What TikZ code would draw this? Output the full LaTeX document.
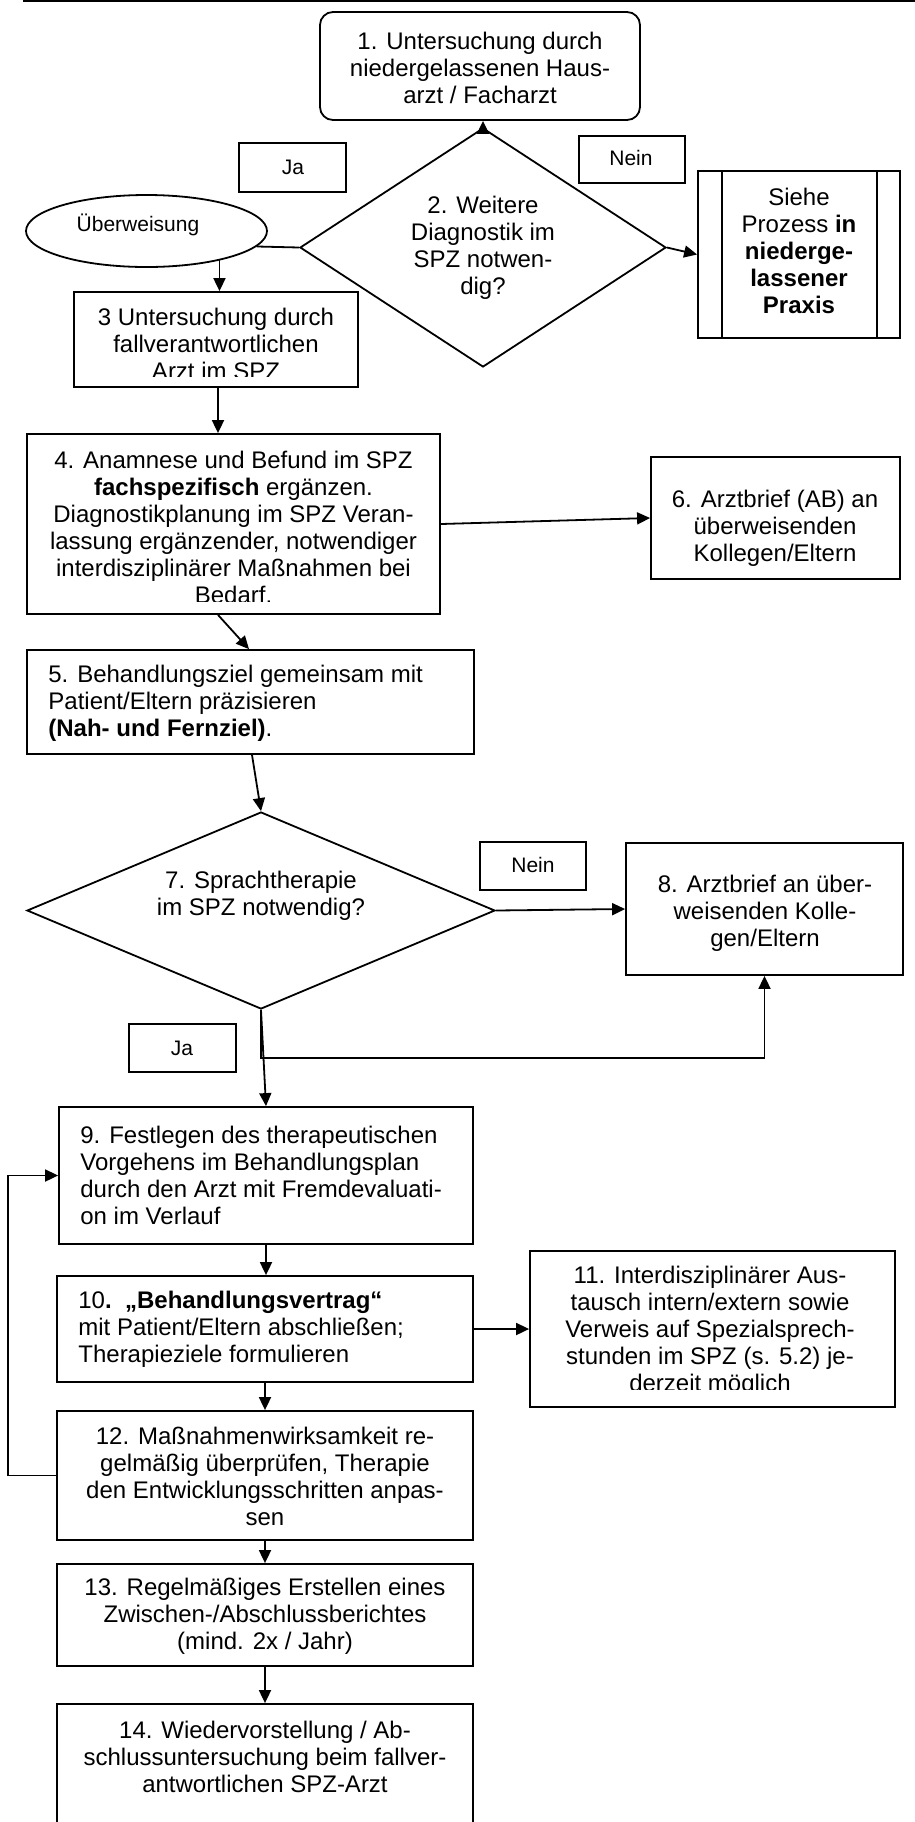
\documentclass[tikz,border=0pt]{standalone}
\usepackage{fontspec}
\setmainfont{Liberation Sans}
\usetikzlibrary{shapes.geometric,arrows.meta,calc}
\begin{document}
\begin{tikzpicture}[x=0.5pt,y=-0.5pt,
  box/.style={draw, line width=0.9pt, inner sep=0pt},
  txt/.style={inner sep=0pt, align=center, font=\fontsize{12}{13.5}\selectfont},
  lbl/.style={inner sep=0pt, align=center, font=\fontsize{10.5}{12}\selectfont},
  ltxt/.style={inner sep=0pt, align=left, anchor=west, font=\fontsize{12}{13.5}\selectfont},
  conn/.style={line width=0.9pt},
  arr/.style={conn, -{Triangle[length=6.5pt,width=6pt]}}]
\useasboundingbox (0,0) rectangle (915,1822);
\clip (0,0) rectangle (915,1822);
\draw[line width=1pt] (23,1) -- (915,1);

% 1
\node[box, rounded corners=6.5pt, minimum width=160pt, minimum height=54pt] (n1) at (480,66) {};
\node[txt] (t1) at (480,68) {1. Untersuchung durch\\niedergelassenen Haus-\\arzt / Facharzt};
% 2
\node[box, diamond, minimum width=183pt, minimum height=119.5pt] (d2) at (483,247.5) {};
\node[txt] (t2) at (483,248) {2. Weitere\\Diagnostik im\\SPZ notwen-\\dig?};
% Siehe
\node[box, minimum width=101pt, minimum height=83.5pt] (nS) at (799,254.5) {};
\draw[conn] ([xshift=12.5pt]nS.north west) -- ([xshift=12.5pt]nS.south west);
\draw[conn] ([xshift=-12pt]nS.north east) -- ([xshift=-12pt]nS.south east);
\node[txt] (tS) at (799,251) {Siehe\\Prozess \textbf{in}\\\textbf{niederge-}\\\textbf{lassener}\\\textbf{Praxis}};
% Nein / Ja top
\node[box, minimum width=53pt, minimum height=23.5pt] (nNein1) at (632,159.5) {};
\node[lbl] (tNein1) at (631,158) {Nein};
\node[box, minimum width=53.5pt, minimum height=24.5pt] (nJa1) at (292.5,167.5) {};
\node[lbl] (tJa1) at (293,167) {Ja};
% Ueberweisung
\node[box, ellipse, minimum width=120.5pt, minimum height=36pt] (eU) at (146.5,231) {};
\node[lbl] (tU) at (138,225) {Überweisung};
% 3
\node[box, minimum width=142pt, minimum height=47.5pt] (n3) at (216,339.5) {};
\begin{scope}
\clip (74,292) rectangle (358,376);
\node[txt] (t3) at (216,344) {3 Untersuchung durch\\fallverantwortlichen\\Arzt im SPZ};
\end{scope}
% 4
\node[box, minimum width=206.5pt, minimum height=90pt] (n4) at (233.5,524) {};
\begin{scope}
\clip (27,434) rectangle (440,601);
\node[txt] (t4) at (233.5,527) {4. Anamnese und Befund im SPZ\\\textbf{fachspezifisch} ergänzen.\\Diagnostikplanung im SPZ Veran-\\lassung ergänzender, notwendiger\\interdisziplinärer Maßnahmen bei\\Bedarf.};
\end{scope}
% 6
\node[box, minimum width=124.5pt, minimum height=61pt] (n6) at (775.5,518) {};
\node[txt] (t6) at (775,528) {6. Arztbrief (AB) an\\überweisenden\\Kollegen/Eltern};
% 5
\node[box, minimum width=223.5pt, minimum height=52pt] (n5) at (250.5,702) {};
\node[ltxt] (t5) at (48,703) {5. Behandlungsziel gemeinsam mit\\Patient/Eltern präzisieren\\\textbf{(Nah- und Fernziel)}.};
% 7
\node[box, diamond, minimum width=234pt, minimum height=98.5pt] (d7) at (261,910.5) {};
\node[txt] (t7) at (261,896) {7. Sprachtherapie\\im SPZ notwendig?};
% Nein / Ja middle
\node[box, minimum width=53pt, minimum height=24pt] (nNein2) at (533,866) {};
\node[lbl] (tNein2) at (533,865) {Nein};
\node[box, minimum width=53.5pt, minimum height=24pt] (nJa2) at (182.5,1048) {};
\node[lbl] (tJa2) at (182,1048) {Ja};
% 8
\node[box, minimum width=138.5pt, minimum height=66pt] (n8) at (764.5,909) {};
\node[txt] (t8) at (765,913) {8. Arztbrief an über-\\weisenden Kolle-\\gen/Eltern};
% 9
\node[box, minimum width=207pt, minimum height=68.5pt] (n9) at (266,1175.5) {};
\node[ltxt] (t9) at (80,1175) {9. Festlegen des therapeutischen\\Vorgehens im Behandlungsplan\\durch den Arzt mit Fremdevaluati-\\on im Verlauf};
% 10
\node[box, minimum width=208pt, minimum height=53pt] (n10) at (265,1329) {};
\node[ltxt] (t10) at (78,1329) {10\textbf{.~~„Behandlungsvertrag“}\\mit Patient/Eltern abschließen;\\Therapieziele formulieren};
% 11
\node[box, minimum width=182.5pt, minimum height=78pt] (n11) at (712.5,1329) {};
\begin{scope}
\clip (530,1251) rectangle (895,1389);
\node[txt] (t11) at (710,1331) {11. Interdisziplinärer Aus-\\tausch intern/extern sowie\\Verweis auf Spezialsprech-\\stunden im SPZ (s. 5.2) je-\\derzeit möglich};
\end{scope}
% 12
\node[box, minimum width=208pt, minimum height=64.5pt] (n12) at (265,1475.5) {};
\node[txt] (t12) at (265,1476.5) {12. Maßnahmenwirksamkeit re-\\gelmäßig überprüfen, Therapie\\den Entwicklungsschritten anpas-\\sen};
% 13
\node[box, minimum width=208pt, minimum height=51pt] (n13) at (265,1615) {};
\node[txt] (t13) at (265,1616.5) {13. Regelmäßiges Erstellen eines\\Zwischen-/Abschlussberichtes\\(mind. 2x / Jahr)};
% 14
\node[box, minimum width=208pt, minimum height=63pt] (n14) at (265,1767) {};
\node[txt] (t14) at (265,1757) {14. Wiedervorstellung / Ab-\\schlussuntersuchung beim fallver-\\antwortlichen SPZ-Arzt};

% connectors
\draw[arr] (d2.north) -- (d2.north |- n1.south);
\draw[arr] (d2.east) -- (nS.west);
\draw[conn] (d2.west) -- (eU.-8.5);
\draw[arr] (eU.-22.9) -- (eU.-22.9 |- n3.north);
\draw[arr] ([xshift=1pt]n3.south) -- ([xshift=1pt]n3.south |- n4.north);
\draw[arr] (n4.east) -- (n6.west);
\draw[arr] ([xshift=-7.75pt]n4.south) -- ([xshift=-0.75pt]n5.north);
\draw[arr] ([xshift=0.75pt]n5.south) -- (d7.north);
\draw[arr] (d7.east) -- (n8.west);
\draw[arr] (d7.south) -- (n9.north);
\coordinate (j7) at (261,1058);
\draw[arr] (d7.south) -- (j7) -| (n8.south);
\draw[arr] (n9.south) -- (n9.south |- n10.north);
\draw[arr] (n10.east) -- (n11.west);
\draw[arr] (n10.south) -- (n12.north);
\draw[arr] (n12.south) -- (n13.north);
\draw[arr] (n13.south) -- (n14.north);
\draw[arr] (n12.west) -- ++(-48,0) |- (n9.west);
\end{tikzpicture}
\end{document}
